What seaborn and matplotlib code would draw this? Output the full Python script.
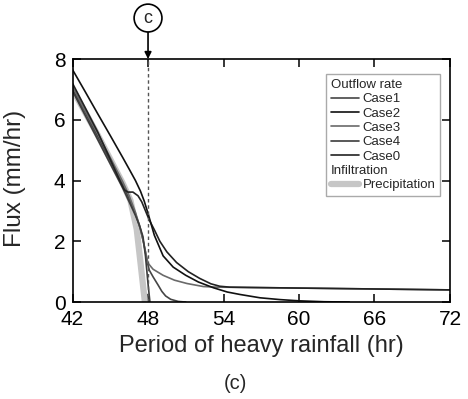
import matplotlib
matplotlib.use("Agg")
import matplotlib.pyplot as plt
import seaborn as sns
from matplotlib.lines import Line2D

# ---- data ----
x_case2 = [42, 43, 44, 45, 46, 46.55, 47.0, 47.4, 47.7, 48.0, 48.5, 49.2, 50.0,
           51.0, 52.0, 53.2, 54.3, 55.3, 56.9, 58.5, 60, 62, 64]
y_case2 = [7.65, 6.93, 6.2, 5.48, 4.75, 4.34, 4.0, 3.65, 3.32, 2.92, 2.2, 1.52, 1.15,
           0.88, 0.66, 0.47, 0.33, 0.25, 0.14, 0.08, 0.04, 0.01, 0.0]

x_case0 = [42, 43, 44, 45, 45.8, 46.1, 46.4, 46.8, 47.2, 47.5, 47.8, 48.1, 48.5, 48.94,
           49.5, 50.27, 51.2, 52.1, 53.0, 53.7, 54.5, 56, 60, 66, 72]
y_case0 = [7.2, 6.4, 5.6, 4.7, 3.95, 3.7, 3.62, 3.62, 3.5, 3.3, 3.0, 2.7, 2.38, 2.0,
           1.65, 1.3, 1.0, 0.78, 0.6, 0.52, 0.49, 0.48, 0.46, 0.43, 0.4]

x_case3 = [42, 43, 44, 45, 46, 46.5, 47.0, 47.3, 47.6, 47.85, 48.0, 48.4, 49.2, 50.1,
           51.1, 52.4, 53.5, 56, 60, 66, 72]
y_case3 = [7.1, 6.3, 5.55, 4.75, 3.95, 3.5, 2.95, 2.55, 2.05, 1.55, 1.28, 1.08, 0.88, 0.72,
           0.61, 0.51, 0.49, 0.48, 0.46, 0.43, 0.4]

x_case1 = [42, 43, 44, 45, 46, 46.5, 47.0, 47.4, 47.7, 47.95, 48.1, 48.4, 48.8, 49.1, 49.4,
           49.8, 50.4, 51]
y_case1 = [7.0, 6.25, 5.45, 4.65, 3.85, 3.4, 2.9, 2.4, 1.85, 1.3, 1.05, 0.83, 0.56, 0.35, 0.2,
           0.09, 0.02, 0.0]

x_case4 = [42, 43, 44, 45, 46, 46.5, 47.0, 47.3, 47.6, 47.8, 48.0, 48.15]
y_case4 = [6.95, 6.15, 5.35, 4.55, 3.75, 3.3, 2.85, 2.55, 2.15, 1.5, 0.6, 0.0]

x_precip = [42, 43, 44, 45, 46, 46.6, 47.1, 47.4, 47.75]
y_precip = [7.0, 6.25, 5.5, 4.7, 3.9, 3.35, 2.4, 1.3, 0.0]

case_labels = ["Case1", "Case2", "Case3", "Case4", "Case0"]
x_ticks = [42, 48, 54, 60, 66, 72]
y_ticks = [0, 2, 4, 6, 8]

# ---- style ----
sns.set_style("ticks")
plt.rcParams["font.family"] = ["Liberation Sans", "DejaVu Sans"]

fig = plt.figure(figsize=(4.68, 3.99), dpi=100)
ax = fig.add_axes([0.155, 0.243, 0.8065, 0.609])

colors = {"Case1": "#454545", "Case2": "#111111", "Case3": "#6a6a6a",
          "Case4": "#3c3c3c", "Case0": "#222222"}
lw = 1.2
precip_color = "#c6c6c6"

sns.lineplot(x=x_precip, y=y_precip, color=precip_color, lw=4.5, ax=ax,
             solid_capstyle="round", legend=False)
sns.lineplot(x=x_case1, y=y_case1, color=colors["Case1"], lw=lw, ax=ax, legend=False)
sns.lineplot(x=x_case3, y=y_case3, color=colors["Case3"], lw=lw, ax=ax, legend=False)
sns.lineplot(x=x_case4, y=y_case4, color=colors["Case4"], lw=lw, ax=ax, legend=False)
sns.lineplot(x=x_case0, y=y_case0, color=colors["Case0"], lw=lw, ax=ax, legend=False)
sns.lineplot(x=x_case2, y=y_case2, color=colors["Case2"], lw=lw, ax=ax, legend=False)

ax.axvline(48, color="#555555", lw=1.0, ls=(0, (2.5, 2)))

ax.set_xlim(42, 72)
ax.set_ylim(0, 8)
ax.set_xticks(x_ticks)
ax.set_yticks(y_ticks)
ax.tick_params(direction="in", length=6, width=1.1, labelsize=15,
               top=True, right=True, color="black", labelcolor="black")
ax.tick_params(axis="x", pad=6)
ax.tick_params(axis="y", pad=5)
for s in ax.spines.values():
    s.set_color("black")
    s.set_linewidth(1.2)

ax.set_xlabel("Period of heavy rainfall (hr)", fontsize=17)
ax.set_ylabel("Flux (mm/hr)", fontsize=17.5)
ax.xaxis.set_label_coords(0.499, -0.135)
ax.yaxis.set_label_coords(-0.122, 0.51)

# circled "c" marker with arrow
ax.annotate("", xy=(48, 8), xytext=(48, 9.05), xycoords="data",
            arrowprops=dict(arrowstyle="-|>", color="black", lw=1.2,
                            mutation_scale=10, shrinkA=0, shrinkB=0),
            annotation_clip=False)
ax.text(48, 9.35, "c", ha="center", va="center", fontsize=13,
        bbox=dict(boxstyle="circle,pad=0.3", fc="white", ec="black", lw=1.2),
        clip_on=False)

# legend
handles = [Line2D([], [], color="none")]
labels = ["Outflow rate"]
for c in case_labels:
    handles.append(Line2D([], [], color=colors[c], lw=lw))
    labels.append(c)
handles.append(Line2D([], [], color="none"))
labels.append("Infiltration")
handles.append(Line2D([], [], color=precip_color, lw=4.5, solid_capstyle="round"))
labels.append("Precipitation")

leg = ax.legend(handles, labels, loc="upper right", bbox_to_anchor=(0.9735, 0.938),
                borderaxespad=0, fontsize=9.5, frameon=True, fancybox=False,
                edgecolor="#aaaaaa", framealpha=1, handlelength=2.1,
                handletextpad=0.3, labelspacing=0.16, borderpad=0.35)
leg.get_frame().set_linewidth(1.0)
col = leg._legend_handle_box.get_children()[0]
for i, hp in enumerate(col.get_children()):
    if labels[i] in ("Outflow rate", "Infiltration"):
        hp.get_children()[0].set_width(0)
        hp.sep = 0

fig.text(0.503, 0.04, "(c)", ha="center", va="center", fontsize=14.5)

fig.savefig("out.png", dpi=100)
